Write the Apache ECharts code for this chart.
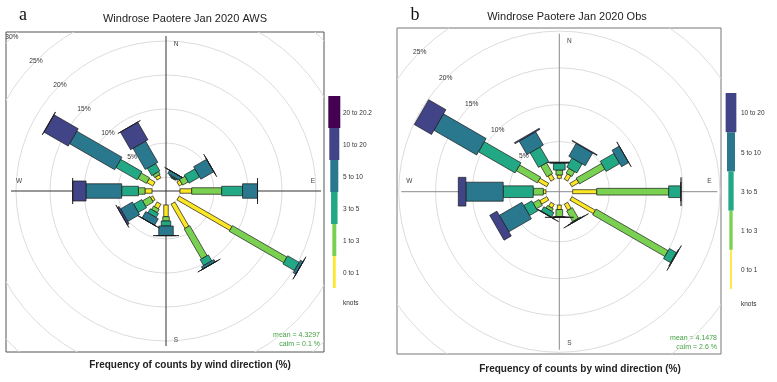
<!DOCTYPE html>
<html>
<head>
<meta charset="utf-8">
<style>
  html, body { margin: 0; padding: 0; background: #fff; }
  #chart { width: 777px; height: 382px; }
</style>
<script src="https://cdn.jsdelivr.net/npm/echarts@6/dist/echarts.min.js"></script>
</head>
<body>
<div id="chart"></div>
<script>
// wind directions, degrees clockwise from north
var directions = [0, 30, 60, 90, 120, 150, 180, 210, 240, 270, 300, 330];

// panel a : AWS, frequency (%) of each speed bin per direction
var awsLabels = ['0 to 1', '1 to 3', '3 to 5', '5 to 10', '10 to 20', '20 to 20.2'];
var aws0to1   = [0, 0.05, 0.5, 1.72, 8.96, 4.1, 1.72, 0.78, 0.38, 1.03, 1.0, 0.5];
var aws1to3   = [0, 0.1, 0.95, 4.41, 9.24, 5.1, 0.63, 0.57, 1.28, 0.97, 1.43, 0.45];
var aws3to5   = [0, 0.15, 1.8, 3.07, 1.95, 1.0, 0.74, 0.7, 1.38, 2.46, 3.61, 1.25];
var aws5to10  = [0, 0.55, 2.2, 2.2, 0.45, 0.4, 1.41, 1.1, 2.01, 5.24, 7.66, 3.6];
var aws10to20 = [0, 0, 0, 0, 0, 0, 0, 0, 0.3, 1.97, 4.1, 3.0];
var aws20to20_2 = [0, 0, 0, 0, 0, 0, 0, 0, 0, 0, 0.05, 0];
var awsRings  = [0, 5, 10, 15, 20, 25, 30];
var awsStats  = ['mean = 4.3297', 'calm = 0.1 %'];

// panel b : Obs
var obsLabels = ['0 to 1', '1 to 3', '3 to 5', '5 to 10', '10 to 20'];
var obs0to1   = [0.45, 0.83, 1.09, 3.26, 3.68, 0.95, 0.6, 0.6, 1.1, 0.36, 1.37, 0.78];
var obs1to3   = [0.68, 0.75, 3.98, 9.78, 11.32, 1.65, 0.98, 0.4, 0.94, 1.36, 3.29, 1.67];
var obs3to5   = [0.91, 1.42, 2.13, 1.63, 1.1, 0.1, 0.04, 0.7, 1.26, 4.08, 5.74, 2.3];
var obs5to10  = [0.13, 2.0, 1.13, 0.05, 0.1, 0.05, 0.04, 0.05, 3.54, 5.07, 6.7, 2.09];
var obs10to20 = [0, 0.1, 0, 0, 0, 0, 0, 0, 1.13, 1.03, 2.7, 0.16];
var obsRings  = [0, 5, 10, 15, 20, 25, 30];
var obsStats  = ['mean = 4.1478', 'calm = 2.6 %'];

var titles = ['Windrose Paotere Jan 2020 AWS', 'Windrose Paotere Jan 2020 Obs'];
var letters = ['a', 'b'];
var xTitle = 'Frequency of counts by wind direction (%)';

// viridis, slow -> fast
var binColors = ['#FDE725', '#7AD151', '#22A884', '#2A788E', '#414487', '#440154'];
var FONT = '"Liberation Sans", Arial, sans-serif';

var panels = [
  {
    bins: [aws0to1, aws1to3, aws3to5, aws5to10, aws10to20, aws20to20_2],
    labels: awsLabels, rings: awsRings, stats: awsStats,
    box: { left: 6, top: 32, width: 318, height: 320 },
    cx: 166, cy: 191, scale: 6.8, off: 14,
    widths: [4.5, 6.5, 9.5, 14.5, 20, 26],
    reach: 155, compassR: 147, lineColor: '#333', border: '#555',
    titleX: 185, titleY: 19, letterX: 23, letterY: 15, xTitleX: 190, xTitleY: 365,
    statX: 320, statY: 335,
    legX: 334.3, legTop: 96, legSeg: 32, legW: [2.7, 4, 6.5, 8, 10, 12], legLabelX: 343
  },
  {
    bins: [obs0to1, obs1to3, obs3to5, obs5to10, obs10to20],
    labels: obsLabels, rings: obsRings, stats: obsStats,
    box: { left: 397, top: 28, width: 324, height: 326 },
    cx: 559.3, cy: 191.7, scale: 7.36, off: 13.4,
    widths: [4, 6.7, 11.7, 19, 28.7],
    reach: 158, compassR: 150, lineColor: '#8a8a8a', border: '#777',
    titleX: 567, titleY: 17, letterX: 415, letterY: 15, xTitleX: 580, xTitleY: 369,
    statX: 717, statY: 338,
    legX: 731, legTop: 93, legSeg: 39.2, legW: [1.7, 3.3, 5.3, 8, 10.7], legLabelX: 741
  }
];

var option = { animation: false, grid: [], xAxis: [], yAxis: [], series: [], graphic: [] };

panels.forEach(function (p, gi) {
  var b = p.box;
  var offU = p.off / p.scale;
  option.grid.push({
    left: b.left, top: b.top, width: b.width, height: b.height,
    show: true, borderColor: p.border, borderWidth: 1, backgroundColor: 'transparent'
  });
  option.xAxis.push({
    gridIndex: gi, type: 'value', show: false,
    min: -(p.cx - b.left) / p.scale, max: (b.left + b.width - p.cx) / p.scale
  });
  option.yAxis.push({
    gridIndex: gi, type: 'value', show: false,
    min: -(b.top + b.height - p.cy) / p.scale, max: (p.cy - b.top) / p.scale
  });

  // grid circles
  option.series.push({
    type: 'custom', xAxisIndex: gi, yAxisIndex: gi, clip: true, silent: true, z: 1,
    data: p.rings.map(function (v) { return [v]; }),
    renderItem: function (params, api) {
      var c = api.coord([0, 0]);
      var r = api.size([api.value(0) + offU, 0])[0];
      return { type: 'circle', shape: { cx: c[0], cy: c[1], r: r },
        style: { fill: 'none', stroke: '#dcdcdc', lineWidth: 1 } };
    }
  });

  // cross lines and compass letters
  option.series.push({
    type: 'custom', xAxisIndex: gi, yAxisIndex: gi, clip: true, silent: true, z: 2,
    data: [[0]],
    renderItem: function (params, api) {
      var c = api.coord([0, 0]);
      var R = p.reach, C = p.compassR;
      var ls = { stroke: p.lineColor, lineWidth: 1 };
      var txt = function (t, x, y) {
        return { type: 'text', style: { text: t, x: x, y: y, textAlign: 'center', textVerticalAlign: 'middle',
          align: 'center', verticalAlign: 'middle', fontSize: 6.5, fontFamily: FONT, fill: '#444' } };
      };
      return { type: 'group', children: [
        { type: 'line', shape: { x1: c[0] - R, y1: c[1], x2: c[0] + R, y2: c[1] }, style: ls },
        { type: 'line', shape: { x1: c[0], y1: c[1] - R, x2: c[0], y2: c[1] + R }, style: ls },
        txt('N', c[0] + 10, c[1] - C),
        txt('E', c[0] + C, c[1] - 10),
        txt('S', c[0] + 10, c[1] + C + 2),
        txt('W', c[0] - C, c[1] - 10)
      ] };
    }
  });

  // paddles: one polygon per direction and speed bin
  var items = [];
  directions.forEach(function (d, i) {
    var total = 0;
    p.bins.forEach(function (arr) { total += arr[i]; });
    if (total <= 0) return;
    var cum = 0;
    p.bins.forEach(function (arr, j) {
      items.push([d, cum, cum + arr[i], j]);
      cum += arr[i];
    });
  });
  option.series.push({
    type: 'custom', xAxisIndex: gi, yAxisIndex: gi, clip: true, z: 3,
    data: items,
    renderItem: function (params, api) {
      var th = api.value(0) * Math.PI / 180;
      var r0 = api.value(1) + offU, r1 = api.value(2) + offU;
      var j = api.value(3);
      var s = Math.sin(th), co = Math.cos(th);
      var p0 = api.coord([r0 * s, r0 * co]);
      var p1 = api.coord([r1 * s, r1 * co]);
      var hw = p.widths[j] / 2;
      var nx = co * hw, ny = s * hw;
      return {
        type: 'polygon',
        shape: { points: [[p0[0] - nx, p0[1] - ny], [p0[0] + nx, p0[1] + ny],
                          [p1[0] + nx, p1[1] + ny], [p1[0] - nx, p1[1] - ny]] },
        style: { fill: binColors[j], stroke: '#1a1a1a', lineWidth: 0.7 }
      };
    }
  });

  // ring labels along 315 degrees
  option.series.push({
    type: 'custom', xAxisIndex: gi, yAxisIndex: gi, clip: true, silent: true, z: 4,
    data: p.rings.slice(1).map(function (v) { return [v]; }),
    renderItem: function (params, api) {
      var c = api.coord([0, 0]);
      var r = api.size([api.value(0) + offU, 0])[0];
      var a = 315 * Math.PI / 180;
      return { type: 'text', style: { text: api.value(0) + '%',
        x: c[0] + r * Math.sin(a), y: c[1] - r * Math.cos(a),
        textAlign: 'center', textVerticalAlign: 'middle', align: 'center', verticalAlign: 'middle',
        fontSize: 6.7, fontFamily: FONT, fill: '#333' } };
    }
  });

  // texts
  var g = option.graphic;
  g.push({ type: 'text', x: p.titleX, y: p.titleY, style: { text: titles[gi],
    textAlign: 'center', textVerticalAlign: 'middle', align: 'center', verticalAlign: 'middle',
    fontSize: 11, fontFamily: FONT, fill: '#222' } });
  g.push({ type: 'text', x: p.letterX, y: p.letterY, style: { text: letters[gi],
    textAlign: 'center', textVerticalAlign: 'middle', align: 'center', verticalAlign: 'middle',
    fontSize: 18, fontFamily: '"Liberation Serif", serif', fill: '#111' } });
  g.push({ type: 'text', x: p.xTitleX, y: p.xTitleY, style: { text: xTitle,
    textAlign: 'center', textVerticalAlign: 'middle', align: 'center', verticalAlign: 'middle',
    fontSize: 10, fontWeight: 'bold', fontFamily: FONT, fill: '#222' } });
  p.stats.forEach(function (t, k) {
    g.push({ type: 'text', x: p.statX, y: p.statY + k * 9.5, style: { text: t,
      textAlign: 'right', textVerticalAlign: 'middle', align: 'right', verticalAlign: 'middle',
      fontSize: 7, fontFamily: FONT, fill: '#3f9f3f' } });
  });

  // colour key
  var n = p.labels.length;
  p.labels.forEach(function (lab, j) {
    var y = p.legTop + (n - 1 - j) * p.legSeg;
    var w = p.legW[j];
    g.push({ type: 'rect', shape: { x: p.legX - w / 2, y: y, width: w, height: p.legSeg },
      style: { fill: binColors[j] } });
    g.push({ type: 'text', x: p.legLabelX, y: y + p.legSeg / 2 + 1, style: { text: lab,
      textAlign: 'left', textVerticalAlign: 'middle', align: 'left', verticalAlign: 'middle',
      fontSize: 6.5, fontFamily: FONT, fill: '#333' } });
  });
  g.push({ type: 'text', x: p.legLabelX, y: p.legTop + n * p.legSeg + 15, style: { text: 'knots',
    textAlign: 'left', textVerticalAlign: 'middle', align: 'left', verticalAlign: 'middle',
    fontSize: 6.5, fontFamily: FONT, fill: '#333' } });
});

var chart = echarts.init(document.getElementById('chart'));
chart.setOption(option);
</script>
</body>
</html>
